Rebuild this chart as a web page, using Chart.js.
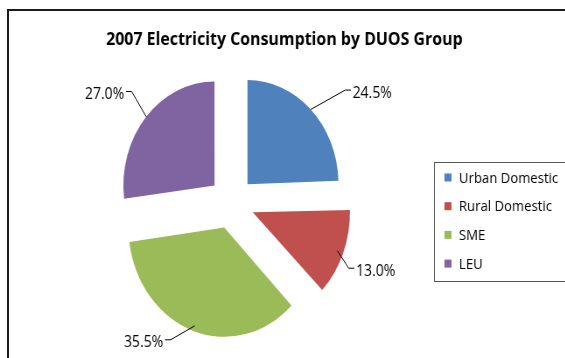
<!DOCTYPE html>
<html>
<head>
<meta charset="utf-8">
<script src="https://cdn.jsdelivr.net/npm/chart.js@4/dist/chart.umd.min.js"></script>
<style>
  html, body { margin: 0; padding: 0; background: #fff; width: 565px; height: 358px; overflow: hidden; }
  /* the chart is laid out wider and squeezed horizontally, giving the oval pie */
  #stage { position: absolute; left: 0; top: 0; width: 646px; height: 358px; transform: scaleX(0.875); transform-origin: 0 0; }
  #frame { position: absolute; left: 7px; top: 9px; width: 600px; height: 400px; border: 2px solid #1a1a1a; box-sizing: border-box; pointer-events: none; }
</style>
</head>
<body>
<div id="stage"><canvas id="c" width="646" height="358"></canvas></div>
<div id="frame"></div>
<script>
// ---- data ----
const categories = ['Urban Domestic', 'Rural Domestic', 'SME', 'LEU'];
const shares = [24.5, 13.0, 35.5, 27.0];
const chartTitle = '2007 Electricity Consumption by DUOS Group';

// ---- styling ----
const sliceColors = ['#4F81BD', '#C0504D', '#9BBB59', '#8064A2'];
const EXPLODE = 26;          // distance each slice is pulled out from the centre
const PIE_RADIUS = 104;
// leader line elbow: [distance from slice centre, angular shift in degrees]
const labelLeader = [[146, 5.8], [123, 5.4], [128, 9.7], [133.5, 3.4]];

const decorations = {
  id: 'decorations',
  afterDatasetsDraw(chart) {
    const ctx = chart.ctx;
    const meta = chart.getDatasetMeta(0);
    ctx.save();

    // title
    ctx.fillStyle = '#000';
    ctx.font = 'bold 18.2px "Open Sans"';
    ctx.textAlign = 'center';
    ctx.textBaseline = 'alphabetic';
    ctx.fillText(chartTitle, 325, 45);

    // percentage labels with leader lines
    ctx.font = '16px "Open Sans"';
    ctx.strokeStyle = '#000';
    ctx.lineWidth = 1;
    meta.data.forEach((arc, i) => {
      const p = arc.getProps(['x', 'y', 'startAngle', 'endAngle', 'outerRadius'], true);
      const mid = (p.startAngle + p.endAngle) / 2;
      const cx = p.x + Math.cos(mid) * EXPLODE;
      const cy = p.y + Math.sin(mid) * EXPLODE;
      const ex = cx + Math.cos(mid) * p.outerRadius;
      const ey = cy + Math.sin(mid) * p.outerRadius;
      const [dist, shift] = labelLeader[i];
      const a = mid + shift * Math.PI / 180;
      const kx = cx + Math.cos(a) * dist;
      const ky = cy + Math.sin(a) * dist;
      const side = Math.cos(a) >= 0 ? 1 : -1;
      const tx = kx + side * 6.5;
      ctx.beginPath();
      ctx.moveTo(ex, ey);
      ctx.lineTo(kx, ky);
      ctx.lineTo(tx, ky);
      ctx.stroke();
      ctx.textAlign = side > 0 ? 'left' : 'right';
      ctx.textBaseline = 'middle';
      ctx.fillText(shares[i].toFixed(1) + '%', tx + side * 2, ky + 3);
    });

    // legend
    ctx.strokeStyle = '#555';
    ctx.strokeRect(496.5, 162.5, 200, 119);
    ctx.font = '15px "Open Sans"';
    ctx.textAlign = 'left';
    ctx.textBaseline = 'middle';
    categories.forEach((name, i) => {
      const yc = 177.5 + i * 28.7;
      ctx.fillStyle = sliceColors[i];
      ctx.fillRect(508, yc - 4, 8, 8);
      ctx.fillStyle = '#000';
      ctx.fillText(name, 524.6, yc + 1);
    });
    ctx.restore();
  }
};

new Chart(document.getElementById('c'), {
  type: 'pie',
  data: {
    labels: categories,
    datasets: [{
      data: shares,
      backgroundColor: sliceColors,
      borderWidth: 0,
      offset: 4 * EXPLODE   // arcs are drawn moved out by offset / 4
    }]
  },
  options: {
    responsive: false,
    devicePixelRatio: 1,
    animation: false,
    events: [],
    radius: PIE_RADIUS,
    layout: { padding: { left: 100, right: 216.6, top: 90, bottom: 42.4 } },
    plugins: {
      legend: { display: false },
      title: { display: false },
      tooltip: { enabled: false }
    }
  },
  plugins: [decorations]
});
</script>
</body>
</html>
